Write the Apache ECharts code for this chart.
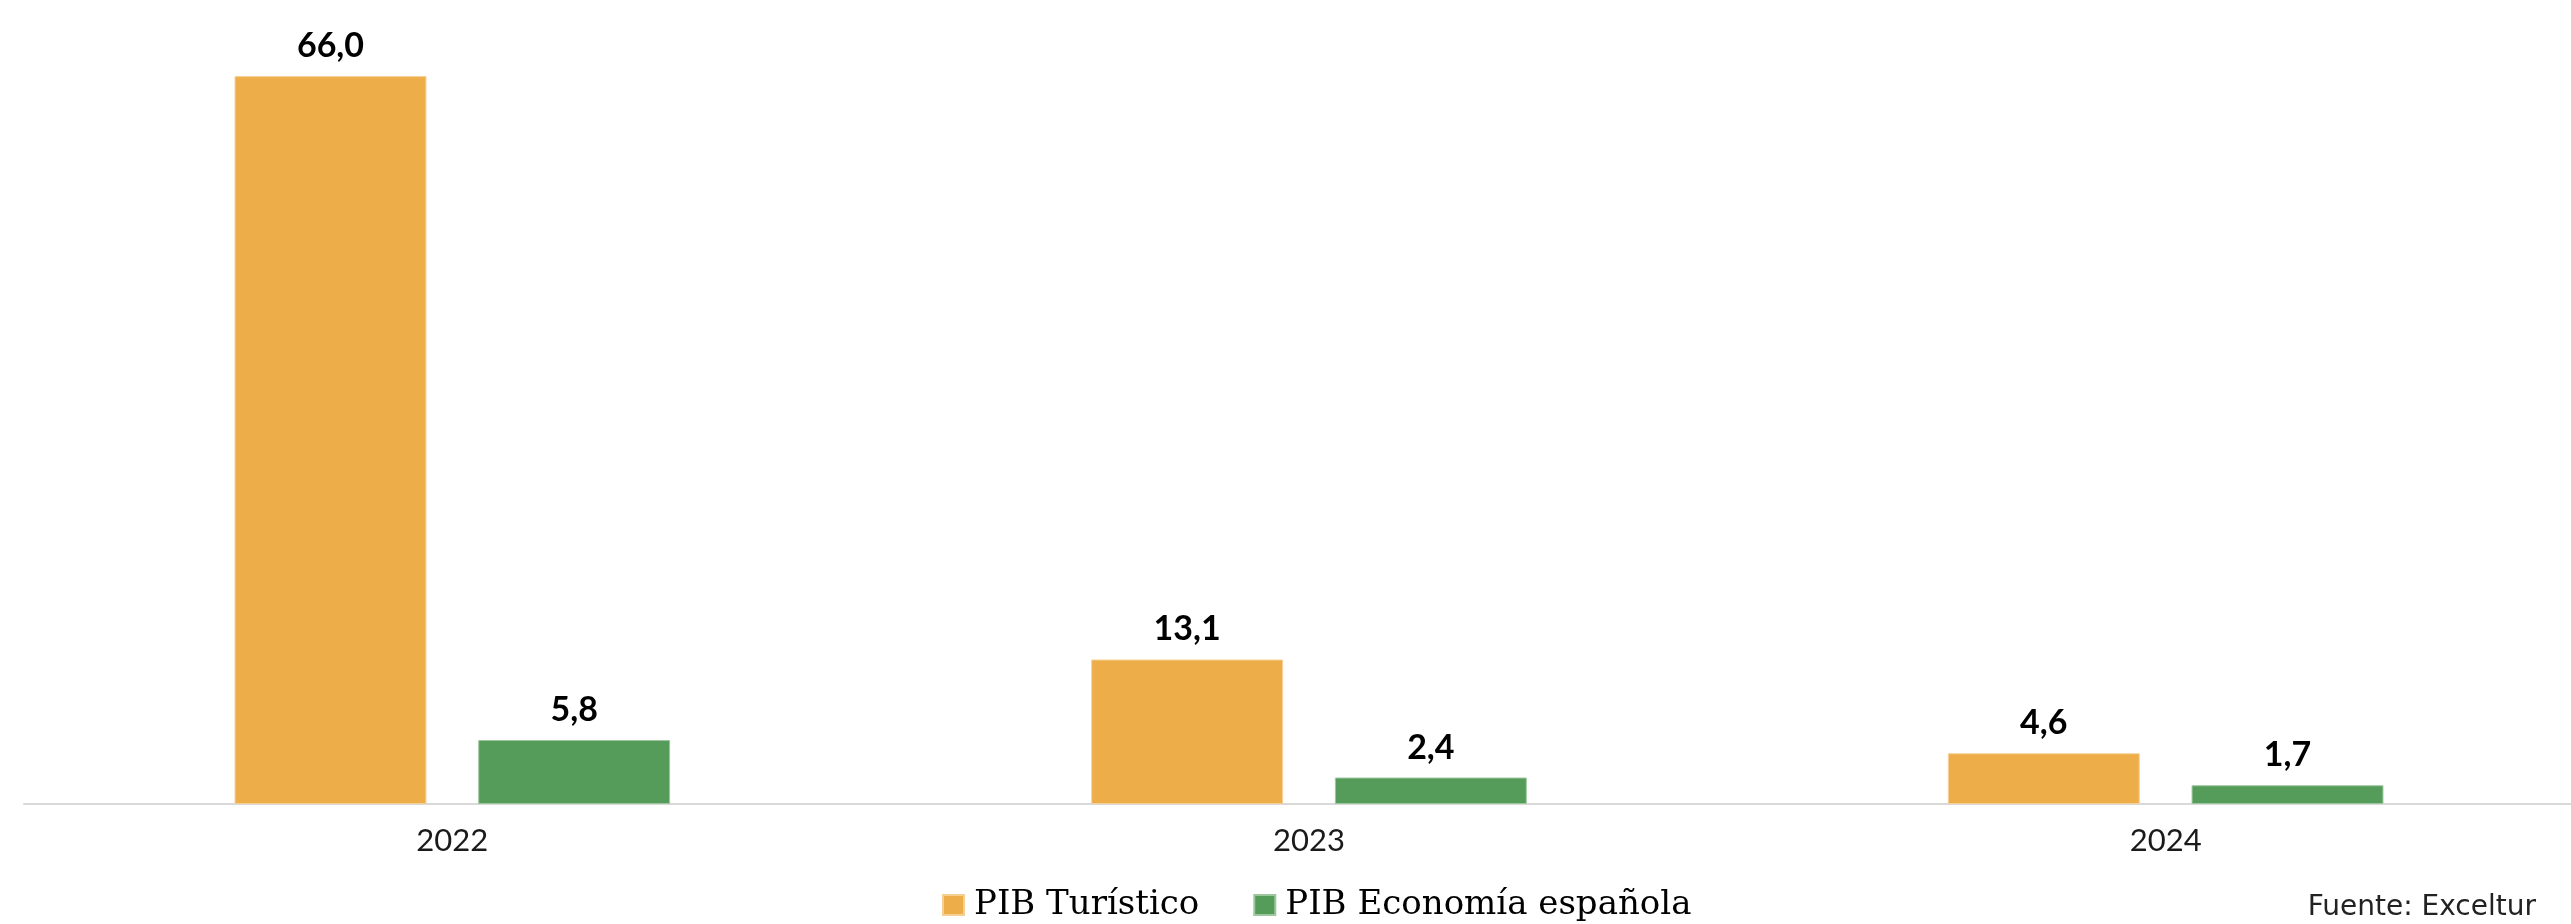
<!DOCTYPE html>
<html>
<head>
<meta charset="utf-8">
<script src="https://cdn.jsdelivr.net/npm/echarts@6/dist/echarts.min.js"></script>
<style>
html,body{margin:0;padding:0;background:#fff;}
#c{width:2571px;height:924px;}
</style>
</head>
<body>
<div id="c"></div>
<script>
const categories = ['2022', '2023', '2024'];
const seriesNames = ['PIB Turístico', 'PIB Economía española'];
const pibTuristico = [66.0, 13.1, 4.6];
const pibEconomia = [5.8, 2.4, 1.7];
const sourceText = 'Fuente: Exceltur';

const chart = echarts.init(document.getElementById('c'));
const fmt = p => p.value.toFixed(1).replace('.', ',');
const labelStyle = {
  show: true, position: 'top', distance: 13, formatter: fmt,
  fontFamily: 'Lato', fontWeight: 'bold', fontSize: 34, color: '#000'
};
chart.setOption({
  animation: false,
  backgroundColor: '#fff',
  grid: { left: 24, right: -23, top: 32, bottom: 120, outerBoundsMode: 'none' },
  xAxis: {
    type: 'category', data: categories,
    axisLine: { show: true, lineStyle: { color: '#d9d9d9', width: 2 } },
    axisTick: { show: false },
    axisLabel: { fontFamily: 'Lato', fontSize: 31, color: '#1a1a1a', margin: 21 }
  },
  yAxis: {
    type: 'value', min: 0, max: 70, interval: 10, show: false,
    splitLine: { show: false }
  },
  legend: {
    left: 942, top: 888, padding: 0, itemWidth: 21, itemHeight: 20, itemGap: 54,
    icon: 'rect',
    textStyle: { fontFamily: 'DejaVu Serif', fontSize: 34, color: '#000', padding: [0, 0, 0, 5] },
    data: seriesNames
  },
  graphic: [{
    type: 'text', right: 35, top: 894,
    style: { text: sourceText, font: '28px "DejaVu Sans"', fill: '#222' }
  }],
  series: [
    {
      name: seriesNames[0], type: 'bar', data: pibTuristico,
      barWidth: '22.4%', barGap: '27%',
      itemStyle: { color: '#EDAE4A', borderColor: '#F6CF93', borderWidth: 1 },
      label: labelStyle
    },
    {
      name: seriesNames[1], type: 'bar', data: pibEconomia,
      barWidth: '22.4%',
      itemStyle: { color: '#559B59', borderColor: '#9CC79E', borderWidth: 1 },
      label: labelStyle
    }
  ]
});
</script>
</body>
</html>
